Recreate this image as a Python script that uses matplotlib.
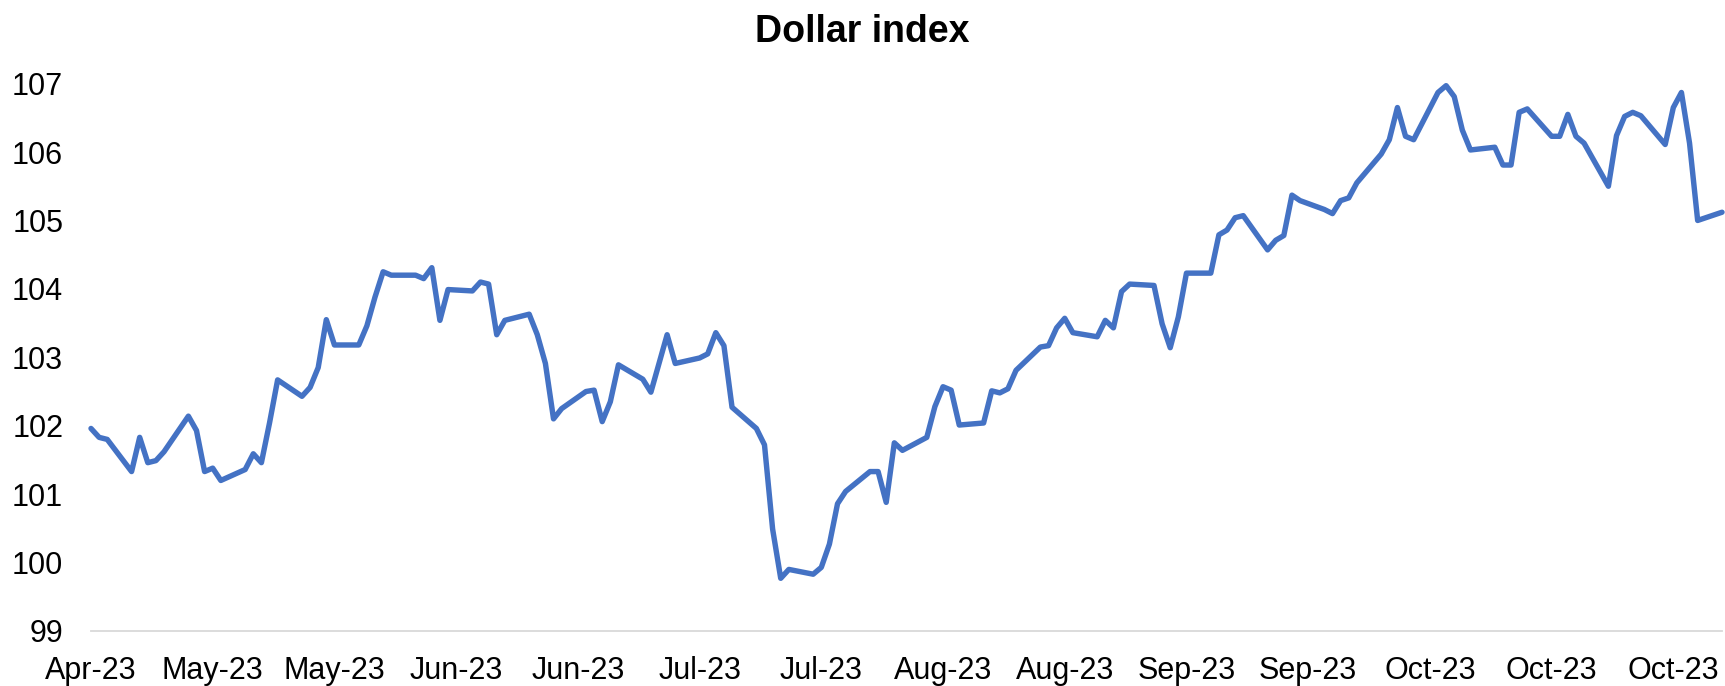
import numpy as np
import pandas as pd
import matplotlib
matplotlib.use("Agg")
import matplotlib.pyplot as plt
import matplotlib.dates as mdates

plt.rcParams['font.family'] = ['Liberation Sans', 'DejaVu Sans']

# trading days
dates = [
    "2023-04-19", "2023-04-20", "2023-04-21", "2023-04-24", "2023-04-25", "2023-04-26",
    "2023-04-27", "2023-04-28", "2023-05-01", "2023-05-02", "2023-05-03", "2023-05-04",
    "2023-05-05", "2023-05-08", "2023-05-09", "2023-05-10", "2023-05-11", "2023-05-12",
    "2023-05-15", "2023-05-16", "2023-05-17", "2023-05-18", "2023-05-19", "2023-05-22",
    "2023-05-23", "2023-05-24", "2023-05-25", "2023-05-26", "2023-05-29", "2023-05-30",
    "2023-05-31", "2023-06-01", "2023-06-02", "2023-06-05", "2023-06-06", "2023-06-07",
    "2023-06-08", "2023-06-09", "2023-06-12", "2023-06-13", "2023-06-14", "2023-06-15",
    "2023-06-16", "2023-06-19", "2023-06-20", "2023-06-21", "2023-06-22", "2023-06-23",
    "2023-06-26", "2023-06-27", "2023-06-28", "2023-06-29", "2023-06-30", "2023-07-03",
    "2023-07-04", "2023-07-05", "2023-07-06", "2023-07-07", "2023-07-10", "2023-07-11",
    "2023-07-12", "2023-07-13", "2023-07-14", "2023-07-17", "2023-07-18", "2023-07-19",
    "2023-07-20", "2023-07-21", "2023-07-24", "2023-07-25", "2023-07-26", "2023-07-27",
    "2023-07-28", "2023-07-31", "2023-08-01", "2023-08-02", "2023-08-03", "2023-08-04",
    "2023-08-07", "2023-08-08", "2023-08-09", "2023-08-10", "2023-08-11", "2023-08-14",
    "2023-08-15", "2023-08-16", "2023-08-17", "2023-08-18", "2023-08-21", "2023-08-22",
    "2023-08-23", "2023-08-24", "2023-08-25", "2023-08-28", "2023-08-29", "2023-08-30",
    "2023-08-31", "2023-09-01", "2023-09-04", "2023-09-05", "2023-09-06", "2023-09-07",
    "2023-09-08", "2023-09-11", "2023-09-12", "2023-09-13", "2023-09-14", "2023-09-15",
    "2023-09-18", "2023-09-19", "2023-09-20", "2023-09-21", "2023-09-22", "2023-09-25",
    "2023-09-26", "2023-09-27", "2023-09-28", "2023-09-29", "2023-10-02", "2023-10-03",
    "2023-10-04", "2023-10-05", "2023-10-06", "2023-10-09", "2023-10-10", "2023-10-11",
    "2023-10-12", "2023-10-13", "2023-10-16", "2023-10-17", "2023-10-18", "2023-10-19",
    "2023-10-20", "2023-10-23", "2023-10-24", "2023-10-25", "2023-10-26", "2023-10-27",
    "2023-10-30", "2023-10-31", "2023-11-01", "2023-11-02", "2023-11-03", "2023-11-06",
]
dollar_index = [
    101.96, 101.83, 101.80, 101.33, 101.83, 101.46,
    101.49, 101.62, 102.14, 101.93, 101.33, 101.38,
    101.20, 101.36, 101.59, 101.46, 102.04, 102.67,
    102.43, 102.56, 102.85, 103.55, 103.18, 103.18,
    103.46, 103.88, 104.25, 104.20, 104.20, 104.15,
    104.31, 103.54, 103.99, 103.97, 104.10, 104.07,
    103.33, 103.54, 103.63, 103.33, 102.91, 102.10,
    102.25, 102.50, 102.52, 102.06, 102.35, 102.89,
    102.68, 102.49, 102.91, 103.33, 102.91, 102.99,
    103.05, 103.36, 103.17, 102.27, 101.96, 101.72,
    100.49, 99.77, 99.90, 99.83, 99.93, 100.27,
    100.86, 101.04, 101.33, 101.33, 100.88, 101.75,
    101.64, 101.83, 102.28, 102.57, 102.52, 102.01,
    102.04, 102.51, 102.48, 102.54, 102.81, 103.15,
    103.17, 103.43, 103.57, 103.36, 103.30, 103.54,
    103.43, 103.96, 104.07, 104.05, 103.49, 103.14,
    103.59, 104.23, 104.23, 104.79, 104.86, 105.04,
    105.07, 104.57, 104.71, 104.78, 105.37, 105.29,
    105.16, 105.10, 105.29, 105.33, 105.55, 105.97,
    106.18, 106.65, 106.23, 106.18, 106.87, 106.97,
    106.81, 106.32, 106.03, 106.07, 105.81, 105.81,
    106.58, 106.63, 106.23, 106.23, 106.55, 106.23,
    106.13, 105.50, 106.24, 106.52, 106.58, 106.53,
    106.11, 106.65, 106.87, 106.13, 105.00, 105.12,
]
tick_start = "2023-04-19"
tick_step_days = 15
y_ticks = [99, 100, 101, 102, 103, 104, 105, 106, 107]

x = pd.to_datetime(dates)

fig = plt.figure(figsize=(17.25, 6.86), dpi=100)
ax = fig.add_axes([91 / 1725, 55 / 686, 1631 / 1725, 547.4 / 686])

ax.plot(x, dollar_index, color="#4472C4", linewidth=3.9,
        solid_joinstyle="round", solid_capstyle="round", clip_on=False)

ax.set_xlim(x[0], x[-1])
ax.set_ylim(y_ticks[0], y_ticks[-1])
ax.set_yticks(y_ticks)

ticks = pd.date_range(tick_start, periods=14, freq=f"{tick_step_days}D")
ax.set_xticks(ticks)
ax.xaxis.set_major_formatter(mdates.DateFormatter("%b-%y"))

for side in ["top", "right", "left"]:
    ax.spines[side].set_visible(False)
ax.spines["bottom"].set_color("#D9D9D9")
ax.spines["bottom"].set_linewidth(1.3)

ax.tick_params(axis="both", length=0, labelsize=22, colors="black")
ax.tick_params(axis="y", pad=20)
ax.tick_params(axis="x", pad=18)

fig.text(0.5, 1 - 32 / 686, "Dollar index", ha="center", va="center",
         fontsize=27, fontweight="bold")

plt.savefig("out.png", dpi=100)
